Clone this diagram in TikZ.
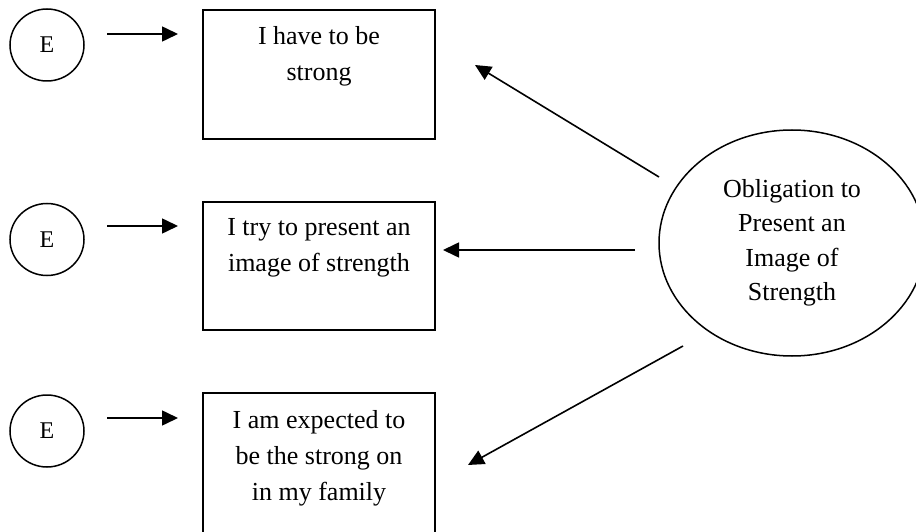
\documentclass[tikz,border=0pt]{standalone}
\usepackage{fontspec}
\setmainfont{Liberation Serif}
\usetikzlibrary{shapes.geometric,arrows.meta}
\begin{document}
\begin{tikzpicture}[x=1pt,y=1pt,
  ecirc/.style={ellipse,draw,line width=1.5pt,minimum width=74pt,minimum height=72pt,inner sep=0pt,font=\fontsize{24}{28}\selectfont},
  sbox/.style={rectangle,draw,line width=2pt,minimum width=232pt,inner sep=0pt},
  btext/.style={anchor=north,inner sep=0pt,align=center,font=\fontsize{26}{36}\selectfont},
  arr/.style={line width=1.6pt,-{Triangle[length=16pt,width=15pt]}},
  bigell/.style={ellipse,draw,line width=1.5pt,minimum width=266pt,minimum height=226pt,inner sep=0pt,align=center,font=\fontsize{26}{34.5}\selectfont}
]
\useasboundingbox (0,0) rectangle (916,531);
\clip (0,0) rectangle (916,531);
\fill[white] (0,0) rectangle (916,531);

% E circles
\node[ecirc] (e1) at (47,486) {E};
\node[ecirc] (e2) at (47,291.5) {E};
\node[ecirc] (e3) at (47,100) {E};

% boxes
\node[sbox,minimum height=129pt] (b1) at (319,456.5) {};
\node[sbox,minimum height=128pt] (b2) at (319,265) {};
\node[sbox,minimum height=145pt] (b3) at (319,65.5) {};

\node[btext] (t1) at ([yshift=-17pt]b1.north) {I have to be\\strong};
\node[btext] (t2) at ([yshift=-17pt]b2.north) {I try to present an\\image of strength};
\node[btext] (t3) at ([yshift=-18pt]b3.north) {I am expected to\\be the strong on\\in my family};

% big ellipse
\node[bigell] (obl) at (792,288) {Obligation to\\Present an\\Image of\\Strength};

% arrows from E
\coordinate (a1s) at (107,497);
\coordinate (a1e) at (178,497);
\coordinate (a2s) at (107,305);
\coordinate (a2e) at (178,305);
\coordinate (a3s) at (107,113);
\coordinate (a3e) at (178,113);
\draw[arr] (a1s) -- (a1e);
\draw[arr] (a2s) -- (a2e);
\draw[arr] (a3s) -- (a3e);

% arrows from ellipse
\coordinate (o1) at (659,354);
\coordinate (p1) at (475,466);
\coordinate (o2) at (635,281);
\coordinate (p2) at (443,281);
\coordinate (o3) at (683,185);
\coordinate (p3) at (468,66);
\draw[arr] (o1) -- (p1);
\draw[arr] (o2) -- (p2);
\draw[arr] (o3) -- (p3);
\end{tikzpicture}
\end{document}
